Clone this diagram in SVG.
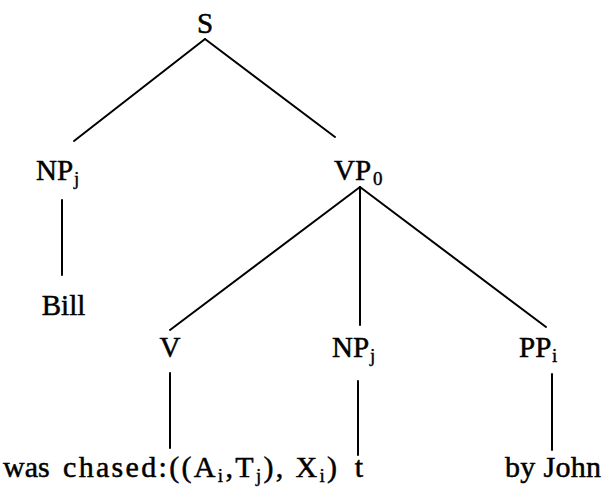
<svg xmlns="http://www.w3.org/2000/svg" width="605" height="495" viewBox="0 0 605 495">
<style>
  text { font-family: "Liberation Serif", "Times New Roman", serif; font-size: 29px; fill: #000; stroke: #000; stroke-width: 0.5; }
  .sub { font-size: 19px; stroke-width: 0.4; }
  .edge { stroke: #000; stroke-width: 2; fill: none; stroke-linecap: round; }
</style>
<rect width="605" height="495" fill="#fff"/>
<g id="connectors">
  <line class="edge" x1="205" y1="39" x2="74" y2="141"/>
  <line class="edge" x1="205" y1="39" x2="335" y2="137"/>
  <line class="edge" x1="62" y1="200" x2="62" y2="275"/>
  <line class="edge" x1="360" y1="187" x2="170" y2="330"/>
  <line class="edge" x1="360" y1="187" x2="360" y2="325"/>
  <line class="edge" x1="360" y1="187" x2="546" y2="327"/>
  <line class="edge" x1="170" y1="373" x2="170" y2="448"/>
  <line class="edge" x1="358" y1="381" x2="358" y2="455"/>
  <line class="edge" x1="552" y1="374" x2="552" y2="450"/>
</g>
<g id="node-S"><text x="205" y="33" text-anchor="middle">S</text></g>
<g id="node-NPj-subject"><text x="36" y="180">NP<tspan class="sub" x="74" y="185">j</tspan></text></g>
<g id="node-VP0"><text x="334" y="180">VP<tspan class="sub" x="373" y="185">0</tspan></text></g>
<g id="node-Bill"><text x="63.5" y="315" text-anchor="middle">Bill</text></g>
<g id="node-V"><text x="170" y="357" text-anchor="middle">V</text></g>
<g id="node-NPj-object"><text x="332" y="357">NP<tspan class="sub" x="370" y="362">j</tspan></text></g>
<g id="node-PPi"><text x="519" y="357">PP<tspan class="sub" x="552" y="362">i</tspan></text></g>
<g id="node-was-chased">
  <text x="3" y="477" style="font-size:30px">was</text>
  <text x="63" y="477" style="font-size:30px" textLength="274" lengthAdjust="spacing">chased:((A<tspan class="sub" dy="5">i</tspan><tspan dy="-5">,T</tspan><tspan class="sub" dy="5">j</tspan><tspan dy="-5">), X</tspan><tspan class="sub" dy="5">i</tspan><tspan dy="-5">)</tspan></text>
</g>
<g id="node-t"><text x="359" y="477" text-anchor="middle" style="font-size:30px">t</text></g>
<g id="node-by-John"><text x="505" y="477" style="font-size:30px" textLength="96">by John</text></g>
</svg>
